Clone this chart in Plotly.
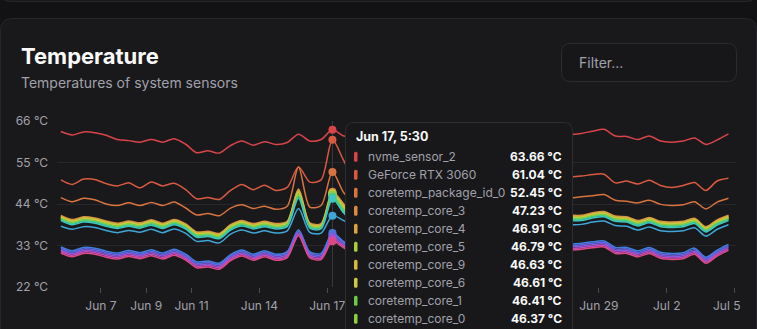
import plotly.graph_objects as go
import pandas as pd

# ---------------- data ----------------
times = pd.date_range("2024-06-05 05:30", periods=60, freq="12h")
HOVER_IDX = 24

nvme_sensor_2 = [63.2, 62.3, 63.1, 62.9, 62.2, 61.1, 60.8, 60.4, 61.1, 60.4, 61.3, 59.9, 57.6, 58.1, 57.5, 59.5, 60.7, 59.6, 60.5, 59.8, 60.3, 62.5, 60.7, 61.1, 63.66, 62.0,
                 61.8, 62.3, 61.5, 62.0, 62.6, 61.9, 61.2, 61.8, 62.4, 61.6, 61.0, 61.7, 62.2, 61.5, 62.0, 62.5, 61.8, 62.1, 62.6, 62.4,
                 62.7, 63.3, 63.8, 62.0, 61.9, 61.1, 62.0, 60.7, 60.4, 60.7, 61.5, 59.8, 61.0, 62.6]
geforce_rtx_3060 = [50.4, 49.2, 50.6, 50.5, 49.4, 48.8, 49.6, 48.3, 49.8, 48.8, 49.5, 47.9, 45.4, 45.7, 45.2, 47.6, 49.2, 47.8, 49.0, 47.6, 48.4, 53.8, 49.8, 50.4, 61.04, 55.5,
                    50.3, 50.8, 49.6, 50.2, 50.9, 50.0, 49.2, 49.9, 50.6, 49.5, 48.9, 49.8, 50.4, 49.6, 50.1, 50.7, 50.0, 50.5, 51.0, 51.2,
                    51.4, 51.8, 51.9, 49.6, 50.1, 49.3, 50.3, 48.9, 48.4, 48.9, 49.7, 47.6, 50.1, 50.8]
package_id_0 = [45.7, 44.6, 45.5, 45.1, 44.0, 43.6, 44.3, 43.6, 44.4, 43.6, 44.5, 43.0, 41.1, 41.5, 40.9, 42.9, 43.8, 42.8, 43.4, 42.6, 43.4, 53.8, 43.2, 43.6, 52.45, 47.0,
                44.4, 44.9, 43.9, 44.4, 45.0, 44.2, 43.5, 44.2, 44.8, 43.8, 43.3, 44.1, 44.6, 43.9, 44.4, 45.0, 44.3, 44.8, 45.3, 45.6,
                45.9, 46.2, 46.5, 45.0, 44.7, 44.3, 45.0, 43.9, 43.6, 43.8, 44.6, 42.7, 44.5, 45.5]
core_3 = [41.0, 39.9, 40.6, 40.3, 39.5, 38.9, 39.5, 39.0, 39.8, 38.9, 39.9, 38.8, 36.6, 36.8, 36.2, 38.5, 39.6, 38.8, 39.4, 38.8, 39.4, 48.0, 39.0, 38.8, 47.23, 44.0,
          40.3, 40.6, 39.6, 40.0, 40.7, 39.9, 39.2, 39.9, 40.5, 39.5, 39.0, 39.8, 40.3, 39.6, 40.1, 40.7, 40.0, 40.4, 40.8, 41.0,
          41.0, 41.7, 42.0, 40.8, 40.6, 39.6, 40.4, 39.4, 39.2, 39.4, 40.2, 38.0, 39.8, 41.0]
core_4 = [40.8, 39.7, 40.4, 40.1, 39.3, 38.7, 39.3, 38.8, 39.6, 38.7, 39.7, 38.6, 36.4, 36.6, 36.0, 38.3, 39.4, 38.6, 39.2, 38.6, 39.2, 47.7, 38.8, 38.6, 46.91, 43.7,
          40.1, 40.4, 39.4, 39.8, 40.5, 39.7, 39.0, 39.7, 40.3, 39.3, 38.8, 39.6, 40.1, 39.4, 39.9, 40.5, 39.8, 40.2, 40.6, 40.8,
          40.8, 41.5, 41.8, 40.6, 40.4, 39.4, 40.2, 39.2, 39.0, 39.2, 40.0, 37.8, 39.6, 40.8]
core_5 = [40.6, 39.5, 40.2, 39.9, 39.1, 38.5, 39.1, 38.6, 39.4, 38.5, 39.5, 38.4, 36.2, 36.4, 35.8, 38.1, 39.2, 38.4, 39.0, 38.4, 39.0, 47.4, 38.6, 38.4, 46.79, 43.4,
          39.9, 40.2, 39.2, 39.6, 40.3, 39.5, 38.8, 39.5, 40.1, 39.1, 38.6, 39.4, 39.9, 39.2, 39.7, 40.3, 39.6, 40.0, 40.4, 40.6,
          40.6, 41.3, 41.6, 40.4, 40.2, 39.2, 40.0, 39.0, 38.8, 39.0, 39.8, 37.6, 39.4, 40.6]
core_9 = [40.5, 39.4, 40.1, 39.8, 39.0, 38.4, 39.0, 38.5, 39.3, 38.4, 39.4, 38.3, 36.1, 36.3, 35.7, 38.0, 39.1, 38.3, 38.9, 38.3, 38.9, 47.2, 38.5, 38.3, 46.63, 43.2,
          39.8, 40.1, 39.1, 39.5, 40.2, 39.4, 38.7, 39.4, 40.0, 39.0, 38.5, 39.3, 39.8, 39.1, 39.6, 40.2, 39.5, 39.9, 40.3, 40.5,
          40.5, 41.2, 41.5, 40.3, 40.1, 39.1, 39.9, 38.9, 38.7, 38.9, 39.7, 37.5, 39.3, 40.5]
core_6 = [40.4, 39.3, 40.0, 39.7, 38.9, 38.3, 38.9, 38.4, 39.2, 38.3, 39.3, 38.2, 36.0, 36.2, 35.6, 37.9, 39.0, 38.2, 38.8, 38.2, 38.8, 47.0, 38.4, 38.2, 46.61, 43.0,
          39.7, 40.0, 39.0, 39.4, 40.1, 39.3, 38.6, 39.3, 39.9, 38.9, 38.4, 39.2, 39.7, 39.0, 39.5, 40.1, 39.4, 39.8, 40.2, 40.4,
          40.4, 41.1, 41.4, 40.2, 40.0, 39.0, 39.8, 38.8, 38.6, 38.8, 39.6, 37.4, 39.2, 40.4]
core_1 = [40.2, 39.1, 39.8, 39.5, 38.7, 38.1, 38.7, 38.2, 39.0, 38.1, 39.1, 38.0, 35.8, 36.0, 35.4, 37.7, 38.8, 38.0, 38.6, 38.0, 38.6, 46.6, 38.2, 38.0, 46.41, 42.6,
          39.5, 39.8, 38.8, 39.2, 39.9, 39.1, 38.4, 39.1, 39.7, 38.7, 38.2, 39.0, 39.5, 38.8, 39.3, 39.9, 39.2, 39.6, 40.0, 40.2,
          40.2, 40.9, 41.2, 40.0, 39.8, 38.8, 39.6, 38.6, 38.4, 38.6, 39.4, 37.2, 39.0, 40.2]
core_0 = [40.1, 39.0, 39.7, 39.4, 38.6, 38.0, 38.6, 38.1, 38.9, 38.0, 39.0, 37.9, 35.7, 35.9, 35.3, 37.6, 38.7, 37.9, 38.5, 37.9, 38.5, 46.4, 38.1, 37.9, 46.37, 42.4,
          39.4, 39.7, 38.7, 39.1, 39.8, 39.0, 38.3, 39.0, 39.6, 38.6, 38.1, 38.9, 39.4, 38.7, 39.2, 39.8, 39.1, 39.5, 39.9, 40.1,
          40.1, 40.8, 41.1, 39.9, 39.7, 38.7, 39.5, 38.5, 38.3, 38.5, 39.3, 37.1, 38.9, 40.1]
core_2 = [39.9, 38.8, 39.5, 39.2, 38.4, 37.8, 38.4, 37.9, 38.7, 37.8, 38.8, 37.7, 35.5, 35.7, 35.1, 37.4, 38.5, 37.7, 38.3, 37.7, 38.3, 46.0, 37.9, 37.7, 45.9, 42.0,
          39.2, 39.5, 38.5, 38.9, 39.6, 38.8, 38.1, 38.8, 39.4, 38.4, 37.9, 38.7, 39.2, 38.5, 39.0, 39.6, 38.9, 39.3, 39.7, 39.9,
          39.9, 40.6, 40.9, 39.7, 39.5, 38.5, 39.3, 38.3, 38.1, 38.3, 39.1, 36.9, 38.7, 39.9]
core_7 = [39.6, 38.5, 39.2, 38.9, 38.1, 37.5, 38.1, 37.6, 38.4, 37.5, 38.5, 37.4, 35.2, 35.4, 34.8, 37.1, 38.2, 37.4, 38.0, 37.4, 38.0, 45.5, 37.6, 37.4, 45.4, 41.6,
          38.9, 39.2, 38.2, 38.6, 39.3, 38.5, 37.8, 38.5, 39.1, 38.1, 37.6, 38.4, 38.9, 38.2, 38.7, 39.3, 38.6, 39.0, 39.4, 39.6,
          39.6, 40.3, 40.6, 39.4, 39.2, 38.2, 39.0, 38.0, 37.8, 38.0, 38.8, 36.6, 38.4, 39.6]
acpitz_0 = [38.1, 37.3, 38.0, 37.8, 37.0, 36.4, 37.0, 36.5, 37.3, 36.4, 37.4, 36.3, 34.1, 34.3, 33.7, 36.0, 37.1, 36.3, 36.9, 36.3, 36.9, 42.8, 36.5, 36.3, 40.9, 39.6,
            37.8, 38.1, 37.1, 37.5, 38.2, 37.4, 36.7, 37.4, 38.0, 37.0, 36.5, 37.3, 37.8, 37.1, 37.6, 38.2, 37.5, 37.9, 38.3, 38.5,
            38.6, 39.2, 39.5, 38.3, 38.1, 37.1, 37.9, 36.9, 36.7, 36.9, 37.7, 35.5, 37.3, 38.5]
nvme_composite = [32.6, 31.6, 32.5, 32.3, 31.5, 31.0, 31.7, 31.1, 31.9, 31.0, 32.0, 30.8, 28.7, 28.9, 28.3, 30.6, 31.8, 30.7, 31.6, 30.7, 31.4, 37.2, 31.3, 30.9, 36.3, 34.0,
                  32.4, 32.8, 31.8, 32.2, 32.9, 32.1, 31.4, 32.0, 32.6, 31.6, 31.1, 31.9, 32.4, 31.7, 32.2, 32.8, 32.1, 32.6, 33.0, 33.3,
                  33.6, 34.0, 34.2, 32.5, 32.5, 31.6, 32.5, 31.2, 30.9, 31.1, 32.3, 29.9, 31.8, 33.3]
nvme_sensor_1 = [32.2, 31.2, 32.1, 31.9, 31.1, 30.6, 31.3, 30.7, 31.5, 30.6, 31.6, 30.4, 28.3, 28.5, 27.9, 30.2, 31.4, 30.3, 31.2, 30.3, 31.0, 36.8, 30.9, 30.5, 35.8, 33.6,
                 32.0, 32.4, 31.4, 31.8, 32.5, 31.7, 31.0, 31.6, 32.2, 31.2, 30.7, 31.5, 32.0, 31.3, 31.8, 32.4, 31.7, 32.2, 32.6, 32.9,
                 33.2, 33.6, 33.8, 32.1, 32.1, 31.2, 32.1, 30.8, 30.5, 30.7, 31.9, 29.5, 31.4, 32.9]
iwlwifi_1 = [31.8, 30.8, 31.7, 31.5, 30.7, 30.2, 30.9, 30.3, 31.1, 30.2, 31.2, 30.0, 27.9, 28.1, 27.5, 29.8, 31.0, 29.9, 30.8, 29.9, 30.6, 36.4, 30.5, 30.1, 35.2, 33.2,
             31.6, 32.0, 31.0, 31.4, 32.1, 31.3, 30.6, 31.2, 31.8, 30.8, 30.3, 31.1, 31.6, 30.9, 31.4, 32.0, 31.3, 31.8, 32.2, 32.5,
             32.8, 33.2, 33.4, 31.7, 31.7, 30.8, 31.7, 30.4, 30.1, 30.3, 31.5, 29.1, 31.0, 32.5]
pch_cannonlake = [31.4, 30.4, 31.3, 31.1, 30.3, 29.8, 30.5, 29.9, 30.7, 29.8, 30.8, 29.6, 27.5, 27.7, 27.1, 29.4, 30.6, 29.5, 30.4, 29.5, 30.2, 36.0, 30.1, 29.7, 34.6, 32.8,
                  31.2, 31.6, 30.6, 31.0, 31.7, 30.9, 30.2, 30.8, 31.4, 30.4, 29.9, 30.7, 31.2, 30.5, 31.0, 31.6, 30.9, 31.4, 31.8, 32.1,
                  32.4, 32.8, 33.0, 31.3, 31.3, 30.4, 31.3, 30.0, 29.7, 29.9, 31.1, 28.7, 30.6, 32.1]
spd5118_0 = [31.0, 30.0, 30.9, 30.7, 29.9, 29.4, 30.1, 29.5, 30.3, 29.4, 30.4, 29.2, 27.1, 27.3, 26.7, 29.0, 30.2, 29.1, 30.0, 29.1, 29.8, 35.6, 29.7, 29.3, 34.1, 32.4,
             30.8, 31.2, 30.2, 30.6, 31.3, 30.5, 29.8, 30.4, 31.0, 30.0, 29.5, 30.3, 30.8, 30.1, 30.6, 31.2, 30.5, 31.0, 31.4, 31.7,
             32.0, 32.4, 32.6, 30.9, 30.9, 30.0, 30.9, 29.6, 29.3, 29.5, 30.7, 28.3, 30.2, 31.7]

series_names = ["nvme_sensor_2", "GeForce RTX 3060", "coretemp_package_id_0",
                "coretemp_core_3", "coretemp_core_4", "coretemp_core_5", "coretemp_core_9",
                "coretemp_core_6", "coretemp_core_1", "coretemp_core_0", "coretemp_core_2",
                "coretemp_core_7", "acpitz_0", "nvme_composite", "nvme_sensor_1",
                "iwlwifi_1", "pch_cannonlake", "spd5118_0"]
series_values = [nvme_sensor_2, geforce_rtx_3060, package_id_0, core_3, core_4, core_5, core_9,
                 core_6, core_1, core_0, core_2, core_7, acpitz_0, nvme_composite, nvme_sensor_1,
                 iwlwifi_1, pch_cannonlake, spd5118_0]

y_ticks = [22, 33, 44, 55, 66]
# ticks that the reference shows (the ones under the tooltip are not visible)
x_ticks = ["2024-06-07", "2024-06-09", "2024-06-11", "2024-06-14", "2024-06-17",
           "2024-06-29", "2024-07-02", "2024-07-05"]
x_tick_labels = ["Jun 7", "Jun 9", "Jun 11", "Jun 14", "Jun 17", "Jun 29", "Jul 2", "Jul 5"]

# ---------------- styles ----------------
colors = ["#d9444b", "#d95a40", "#d9733f", "#d98b40", "#d9a340", "#a9cc40", "#d6b840",
          "#cdcb40", "#6bcc42", "#8ccf42", "#47c98a", "#3ec6c0", "#3fa6d8", "#3f7fe0",
          "#5f68e0", "#8a58dc", "#bf4dc0", "#dc4a86"]

PAGE_BG = "#121214"
CARD_BG = "#19191c"
BORDER = "#27272b"
MUTED = "#a1a1aa"
FONT = "Inter"

FIG_W, FIG_H = 757, 329
L, R, T, B = 57, 21, 121, 42
PW = FIG_W - L - R
PH = FIG_H - T - B


def px(x):
    return (x - L) / PW


def py(y):
    return (FIG_H - B - y) / PH


def rrect(x0, y0, x1, y1, r):
    return (f"M {px(x0 + r)},{py(y0)} L {px(x1 - r)},{py(y0)} Q {px(x1)},{py(y0)} {px(x1)},{py(y0 + r)} "
            f"L {px(x1)},{py(y1 - r)} Q {px(x1)},{py(y1)} {px(x1 - r)},{py(y1)} "
            f"L {px(x0 + r)},{py(y1)} Q {px(x0)},{py(y1)} {px(x0)},{py(y1 - r)} "
            f"L {px(x0)},{py(y0 + r)} Q {px(x0)},{py(y0)} {px(x0 + r)},{py(y0)} Z")


fig = go.Figure()

for name, vals, col in zip(series_names, series_values, colors):
    fig.add_trace(go.Scatter(x=times, y=vals, name=name, mode="lines",
                             line=dict(color=col, width=1.5, shape="spline", smoothing=0.8),
                             hoverinfo="skip", showlegend=False))

hover_t = times[HOVER_IDX]
fig.add_trace(go.Scatter(x=[hover_t] * len(series_values),
                         y=[v[HOVER_IDX] for v in series_values],
                         mode="markers", marker=dict(color=colors, size=8, line=dict(width=0)),
                         hoverinfo="skip", showlegend=False))

shapes = [
    dict(type="path", xref="paper", yref="paper", path=rrect(0.5, -40, 756.5, 1.5, 10),
         fillcolor=CARD_BG, line=dict(color=BORDER, width=1), layer="below"),
    dict(type="path", xref="paper", yref="paper", path=rrect(0.5, 18.5, 756.5, 360, 12),
         fillcolor=CARD_BG, line=dict(color=BORDER, width=1), layer="below"),
    dict(type="path", xref="paper", yref="paper", path=rrect(561.5, 43.5, 736.5, 81.5, 9),
         fillcolor="#17171a", line=dict(color="#2b2b30", width=1), layer="below"),
    dict(type="line", xref="x", yref="paper", x0=hover_t, x1=hover_t, y0=0, y1=1,
         line=dict(color="#3a3a3f", width=1), layer="below"),
    dict(type="path", xref="paper", yref="paper", path=rrect(345.5, 122.5, 572.5, 360, 9),
         fillcolor="#18181b", line=dict(color="#2d2d32", width=1), layer="above"),
]

last_label = x_tick_labels[-1]
annotations = [
    dict(text="Temperature", x=px(19), y=py(55.5), xref="paper", yref="paper", xanchor="left",
         yanchor="middle", showarrow=False, font=dict(family=FONT, size=22, color="#fafafa", weight=700)),
    dict(text="Temperatures of system sensors", x=px(19), y=py(82), xref="paper", yref="paper",
         xanchor="left", yanchor="middle", showarrow=False, font=dict(family=FONT, size=14, color=MUTED)),
    dict(text="Filter...", x=px(577), y=py(62.5), xref="paper", yref="paper", xanchor="left",
         yanchor="middle", showarrow=False, font=dict(family=FONT, size=14, color=MUTED)),
    # the last tick label is kept inside the chart, as in the reference
    dict(text=last_label, x=px(727.3), y=py(305.5), xref="paper", yref="paper", xanchor="center",
         yanchor="middle", showarrow=False, font=dict(family=FONT, size=12, color=MUTED)),
    dict(text=f"{hover_t:%b} {hover_t.day}, {hover_t.hour}:{hover_t:%M}", x=px(353.5), y=py(136.5),
         xref="paper", yref="paper", xanchor="left", yanchor="middle", showarrow=False,
         font=dict(family=FONT, size=12.5, color="#fafafa", weight=700)),
]

order = sorted(range(len(series_values)), key=lambda k: -series_values[k][HOVER_IDX])[:10]
for row, k in enumerate(order):
    yc = 156.7 + 18 * row
    shapes.append(dict(type="path", xref="paper", yref="paper", path=rrect(354, yc - 5, 357.5, yc + 5, 1.5),
                       fillcolor=colors[k], line=dict(width=0), layer="above"))
    annotations.append(dict(text=series_names[k], x=px(365.5), y=py(yc), xref="paper", yref="paper",
                            xanchor="left", yanchor="middle", showarrow=False,
                            font=dict(family=FONT, size=12, color=MUTED)))
    annotations.append(dict(text=f"{series_values[k][HOVER_IDX]:.2f} °C", x=px(563.5), y=py(yc),
                            xref="paper", yref="paper", xanchor="right", yanchor="middle", showarrow=False,
                            font=dict(family=FONT, size=12, color="#fafafa", weight=700)))

fig.update_layout(
    template="none",
    width=FIG_W, height=FIG_H,
    margin=dict(l=L, r=R, t=T, b=B, pad=0),
    paper_bgcolor=PAGE_BG, plot_bgcolor=CARD_BG,
    showlegend=False, hovermode=False,
    shapes=shapes, annotations=annotations,
    xaxis=dict(type="date", range=["2024-06-05 01:23", "2024-07-05 01:30"],
               tickvals=x_ticks, ticktext=x_tick_labels[:-1] + [""],
               ticks="outside", ticklen=5, tickwidth=1, tickcolor="#4a4a50",
               showgrid=False, zeroline=False, showline=False, automargin=False,
               tickfont=dict(family=FONT, size=12, color=MUTED), ticklabelstandoff=3),
    yaxis=dict(range=[22, 66], tickvals=y_ticks, ticktext=[f"{v} °C" for v in y_ticks],
               showgrid=True, gridcolor="#28282c", gridwidth=1, zeroline=False, showline=False,
               ticks="", automargin=False, ticklabelstandoff=8,
               tickfont=dict(family=FONT, size=12, color=MUTED)),
)

fig.write_html("out.html")
